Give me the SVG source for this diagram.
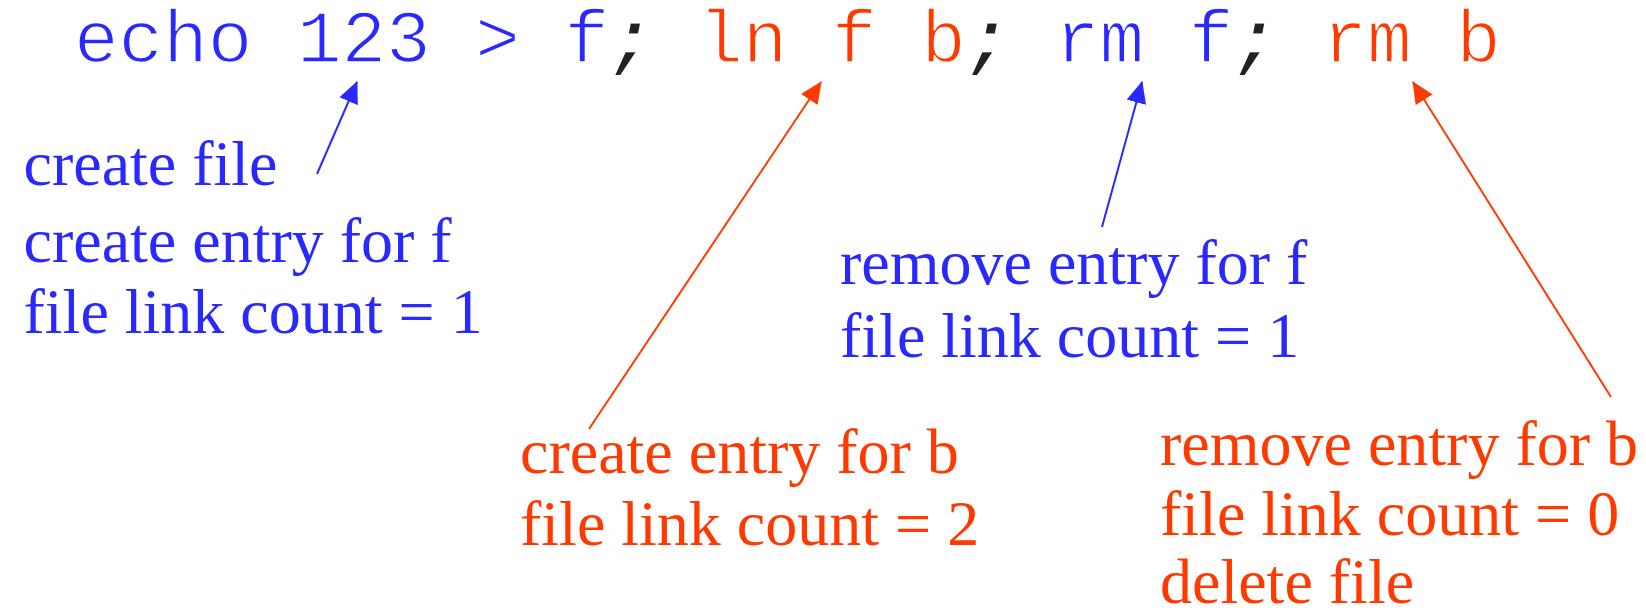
<svg xmlns="http://www.w3.org/2000/svg" width="1646" height="610" viewBox="0 0 1646 610">
<style>
.cmd{font-family:"Liberation Mono","Courier New",monospace;font-size:74.3px}
.thin{stroke:#fff;stroke-width:1.6px}
.lbl{font-family:"Liberation Serif","Times New Roman",serif;font-size:64px}
.b{fill:#2929ff}
.r{fill:#ff3a00}
.semi{fill:#222;font-weight:bold;font-style:italic;stroke:#fff;stroke-width:1.2px}
.cb{stroke:#2929ff;stroke-width:2;fill:none}
.cr{stroke:#ff3a00;stroke-width:2;fill:none}
</style>
<defs>
<marker id="ab" viewBox="0 0 22 20" refX="21" refY="10" markerWidth="22" markerHeight="20" markerUnits="userSpaceOnUse" orient="auto"><path d="M0,0 L22,10 L0,20 z" fill="#2929ff"/></marker>
<marker id="ar" viewBox="0 0 22 20" refX="21" refY="10" markerWidth="22" markerHeight="20" markerUnits="userSpaceOnUse" orient="auto"><path d="M0,0 L22,10 L0,20 z" fill="#ff3a00"/></marker>
</defs>
<g id="command">
<text class="cmd" x="74" y="62" xml:space="preserve"><tspan class="b thin">echo 123 &gt; f</tspan><tspan class="semi">;</tspan> <tspan class="r thin">ln f b</tspan><tspan class="semi">;</tspan> <tspan class="b thin">rm f</tspan><tspan class="semi">;</tspan> <tspan class="r thin">rm b</tspan></text>
</g>
<g id="connectors">
<line class="cb" x1="317" y1="174" x2="357" y2="82" marker-end="url(#ab)"/>
<line class="cr" x1="589" y1="429" x2="821" y2="82" marker-end="url(#ar)"/>
<line class="cb" x1="1102" y1="227" x2="1142" y2="82" marker-end="url(#ab)"/>
<line class="cr" x1="1611" y1="397" x2="1413" y2="82" marker-end="url(#ar)"/>
</g>
<g id="note-echo" class="lbl b">
<text x="23.5" y="185">create file</text>
<text x="23.5" y="262">create entry for f</text>
<text x="23.5" y="333">file link count = 1</text>
</g>
<g id="note-ln" class="lbl r">
<text x="520" y="473">create entry for b</text>
<text x="520" y="545">file link count = 2</text>
</g>
<g id="note-rmf" class="lbl b">
<text x="840" y="284">remove entry for f</text>
<text x="840" y="357">file link count = 1</text>
</g>
<g id="note-rmb" class="lbl r">
<text x="1160" y="465">remove entry for b</text>
<text x="1160" y="535">file link count = 0</text>
<text x="1160" y="603">delete file</text>
</g>
</svg>
